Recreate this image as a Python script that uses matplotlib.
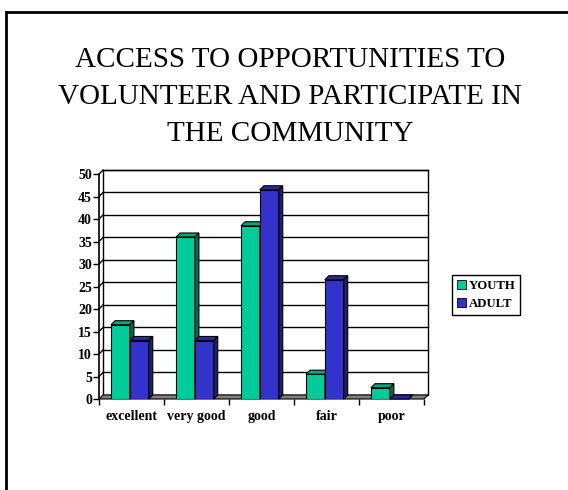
import matplotlib
matplotlib.use("Agg")
import matplotlib.pyplot as plt
from matplotlib.patches import Polygon, Patch
from matplotlib.lines import Line2D

categories = ["excellent", "very good", "good", "fair", "poor"]
youth = [16.5, 36, 38.5, 5.5, 2.5]
adult = [13, 13, 46.5, 26.5, 0]
yticks = list(range(0, 51, 5))

TITLE = "ACCESS TO OPPORTUNITIES TO\nVOLUNTEER AND PARTICIPATE IN\nTHE COMMUNITY"
SERIF = "Liberation Serif"

# (front, top, side) shades for the pseudo-3D bars
YOUTH_C = ("#00cc99", "#00a67c", "#006b50")
ADULT_C = ("#3333cc", "#2828a6", "#1f1f66")
FLOOR = "#808080"

DX, DY = 0.062, 0.9          # depth offset in data units
W = 0.29                     # bar width

fig = plt.figure(figsize=(5.68, 4.9), dpi=100, facecolor="white")
ax = fig.add_axes([99 / 568, 91 / 490, 329 / 568, 229 / 490])
ax.set_xlim(-0.5, 4.5 + DX)
ax.set_ylim(0, 50 + DY)
for sp in ("top", "right", "bottom"):
    ax.spines[sp].set_visible(False)
ax.spines["left"].set_bounds(0, 50)
ax.spines["left"].set_linewidth(1.2)

# back wall with gridlines, left wall, floor
ax.add_patch(Polygon([(-0.5 + DX, DY), (4.5 + DX, DY), (4.5 + DX, 50 + DY),
                      (-0.5 + DX, 50 + DY)], closed=True, facecolor="white",
                     edgecolor="black", lw=1.0, clip_on=False, zorder=0))
for v in yticks[1:]:
    ax.plot([-0.5 + DX, 4.5 + DX], [v + DY, v + DY], color="black", lw=1.0,
            zorder=1, clip_on=False)
    ax.plot([-0.5, -0.5 + DX], [v, v + DY], color="black", lw=1.0,
            zorder=1, clip_on=False)
ax.add_patch(Polygon([(-0.5, 0), (4.5, 0), (4.5 + DX, DY), (-0.5 + DX, DY)],
                     closed=True, facecolor=FLOOR, edgecolor="black", lw=0.8,
                     clip_on=False, zorder=2))


def bar3d(x0, h, colors, z):
    front, top, side = colors
    x1 = x0 + W
    ax.bar(x0, h, W, align="edge", color=front, edgecolor="black", lw=0.8,
           zorder=z)
    ax.add_patch(Polygon([(x0, h), (x1, h), (x1 + DX, h + DY), (x0 + DX, h + DY)],
                         closed=True, facecolor=top, edgecolor="black", lw=0.8,
                         zorder=z, clip_on=False))
    ax.add_patch(Polygon([(x1, 0), (x1 + DX, DY), (x1 + DX, h + DY), (x1, h)],
                         closed=True, facecolor=side, edgecolor="black", lw=0.8,
                         zorder=z, clip_on=False))


for i, (yv, av) in enumerate(zip(youth, adult)):
    bar3d(i - 0.315, yv, YOUTH_C, 3 + 2 * i)
    bar3d(i - 0.315 + W, av, ADULT_C, 4 + 2 * i)

ax.set_yticks(yticks)
ax.set_yticklabels([str(v) for v in yticks], fontfamily=SERIF,
                   fontweight="bold", fontsize=10)
ax.tick_params(axis="y", length=4, width=1, pad=1)
ax.set_xticks(range(len(categories)))
ax.set_xticklabels(categories, fontfamily=SERIF, fontweight="bold",
                   fontsize=10)
ax.tick_params(axis="x", length=0, pad=8)
ax.set_xticks([k - 0.5 for k in range(6)], minor=True)
ax.tick_params(axis="x", which="minor", length=4, width=1, direction="out")

fig.text(290 / 568, 1 - 97 / 490, TITLE, ha="center", va="center",
         fontfamily=SERIF, fontsize=21, linespacing=1.55)

leg = fig.legend(handles=[Patch(facecolor=YOUTH_C[0], edgecolor="black", lw=0.6,
                                label="YOUTH"),
                          Patch(facecolor=ADULT_C[0], edgecolor="black", lw=0.6,
                                label="ADULT")],
                 loc="upper left", bbox_to_anchor=(452 / 568, 1 - 275 / 490),
                 prop={"family": SERIF, "weight": "bold", "size": 9.2},
                 fancybox=False, edgecolor="black", framealpha=1,
                 handlelength=0.7, handleheight=0.7, handletextpad=0.2,
                 borderpad=0.4, labelspacing=0.45, borderaxespad=0)
leg.get_frame().set_linewidth(1.0)

# outer frame: top and left edges
fig.add_artist(Line2D([6 / 568, 1], [1 - 12 / 490] * 2, color="black", lw=2,
                      transform=fig.transFigure))
fig.add_artist(Line2D([6 / 568] * 2, [0, 1 - 12 / 490], color="black", lw=2,
                      transform=fig.transFigure))

fig.savefig("out.png", dpi=100, facecolor="white")
